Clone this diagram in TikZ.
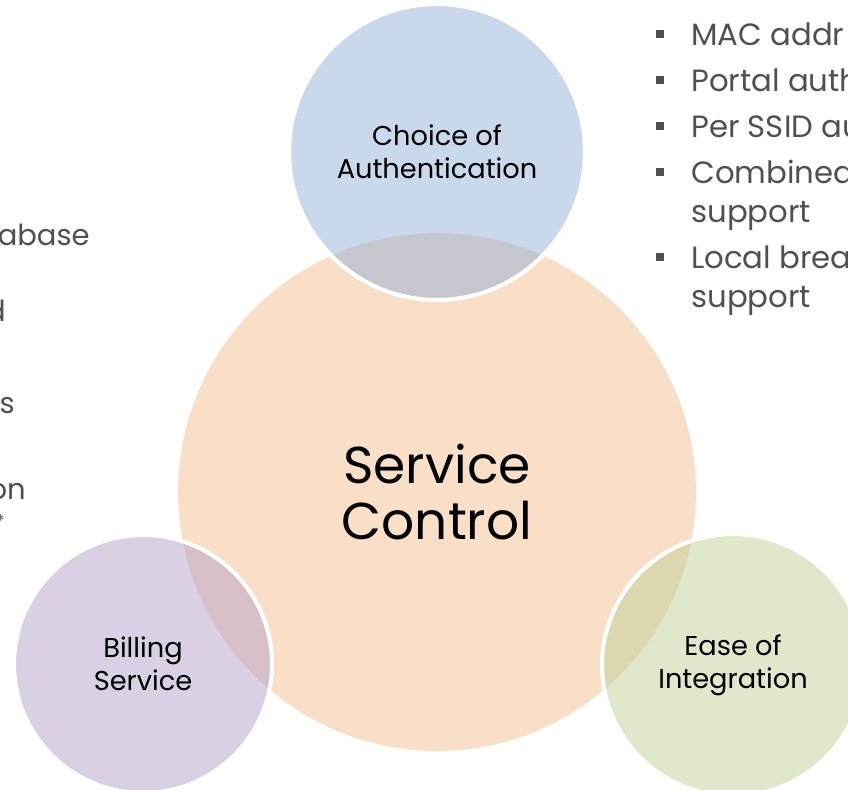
\documentclass[tikz,border=0pt]{standalone}
\usepackage{fontspec}
\setmainfont{Poppins}
\usepackage{tikz}
\usetikzlibrary{positioning}
\definecolor{orangeclair}{RGB}{250,223,200}
\definecolor{bleubulle}{RGB}{147,177,213}
\definecolor{mauvebulle}{RGB}{179,161,199}
\definecolor{vertbulle}{RGB}{193,209,153}
\definecolor{grisliste}{RGB}{80,80,80}

\begin{document}
\begin{tikzpicture}[x=0.02cm,y=-0.02cm]
\tikzstyle{centre}=[circle,inner sep=0pt,align=center,text=black,fill=orangeclair]
\tikzstyle{bulle}=[circle,inner sep=0pt,align=center,text=black,draw=white,line width=2.3pt,fill opacity=0.5,text opacity=1]
\tikzstyle{puce}=[fill=grisliste,inner sep=0pt,minimum size=0.15cm]
\tikzstyle{liste}=[anchor=base west,text=grisliste,inner sep=0pt,font=\fontsize{17.5}{19}\selectfont]
\tikzstyle{coupe}=[anchor=base east,text=grisliste,inner sep=0pt,font=\fontsize{16.5}{19}\selectfont]
\def\PoliceBulle{\fontsize{15.5}{18.7}\selectfont}
\def\PoliceCentre{\fontsize{29.5}{31.7}\selectfont}
\def\ColPuce{660}
\def\ColTexte{691}
\useasboundingbox (0,0) rectangle (848,789);
\node[centre,minimum size=10.36cm,font=\PoliceCentre] (SC) at (437,492) {Service\\Control};
\node[bulle,fill=bleubulle,minimum size=5.92cm,font=\PoliceBulle] (CA) at (437,152) {Choice of\\Authentication};
\node[bulle,fill=mauvebulle,minimum size=5.16cm,font=\PoliceBulle] (BS) at (143,664) {Billing\\Service};
\node[bulle,fill=vertbulle,minimum size=5.24cm,font=\PoliceBulle] (EI) at (733,665) {Ease of\\Integration};
\node[puce] (PA) at (\ColPuce,34) {};
\node[liste] (LA) at (\ColTexte,45) {MAC addr};
\node[puce] (PB) at (\ColPuce,80) {};
\node[liste] (LB) at (\ColTexte,91) {Portal auth};
\node[puce] (PC) at (\ColPuce,126) {};
\node[liste] (LC) at (\ColTexte,137) {Per SSID au};
\node[puce] (PD) at (\ColPuce,172) {};
\node[liste] (LD) at (\ColTexte,183) {Combined};
\node[liste] (LDb) at (\ColTexte,222) {support};
\node[puce] (PE) at (\ColPuce,257) {};
\node[liste] (LE) at (\ColTexte,268) {Local brea};
\node[liste] (LEb) at (\ColTexte,307) {support};
\node[coupe] (GA) at (90,245) {abase};
\node[coupe] (GB) at (6,321) {d};
\node[coupe] (GC) at (15,413) {ss};
\node[coupe] (GD) at (26,499) {on};
\node[coupe,font=\fontsize{10}{12}\selectfont] (GE) at (5,527) {*};
\end{tikzpicture}
\end{document}
